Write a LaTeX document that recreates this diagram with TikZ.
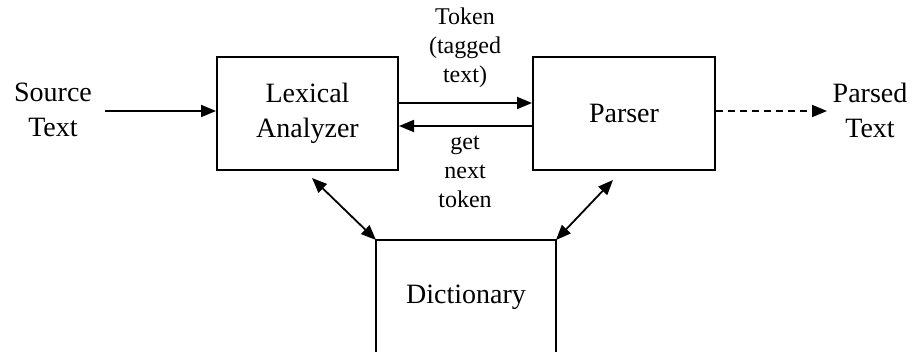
\documentclass[tikz,border=0pt]{standalone}
\usepackage{fontspec}
\setmainfont{Liberation Serif}
\usetikzlibrary{arrows.meta}
\begin{document}
\begin{tikzpicture}[x=1pt,y=-1pt,
  blk/.style={draw,line width=2pt,inner sep=0pt},
  big/.style={font=\fontsize{28}{35}\selectfont,align=center},
  lbl/.style={font=\fontsize{24}{29}\selectfont,align=center},
  tip/.style={Triangle[length=15pt,width=12pt]},
  arr/.style={line width=1.8pt,-{Triangle[length=15pt,width=12pt]}},
  darr/.style={line width=1.8pt,{Triangle[length=15pt,width=12pt]}-{Triangle[length=15pt,width=12pt]}}]
\useasboundingbox (0,0) rectangle (920,351);
% main blocks
\node[blk,minimum width=181pt,minimum height=113pt,big] (lex) at (307.5,113.5) {Lexical\\Analyzer};
\node[blk,minimum width=182pt,minimum height=113pt,big] (par) at (624,113.5) {Parser};
% dictionary: open at the bottom
\coordinate (dtl) at (376,240);
\coordinate (dtr) at (556,240);
\draw[line width=2pt] (376,352) -- (dtl) -- (dtr) -- (556,352);
\node[big] (dic) at (466,297) {Dictionary};
% outer texts
\node[big] (src) at (53,110) {Source\\Text};
\node[big] (out) at (870,110) {Parsed\\Text};
% connectors
\coordinate (s0) at (105,111);
\coordinate (p1) at (827,111);
\draw[arr] (s0) -- (lex.west |- s0);
\draw[arr] (lex.east |- 0,103) coordinate (t0) -- (par.west |- t0);
\draw[arr] (par.west |- 0,126) coordinate (g0) -- (lex.east |- g0);
\draw[arr,dash pattern=on 7pt off 5pt] (par.east |- p1) -- (p1);
\draw[darr] (312,178) coordinate (la) -- (dtl);
\draw[darr] (613,180) coordinate (pa) -- (dtr);
% arrow labels
\node[lbl] (tok) at (465,48) {Token\\(tagged\\text)};
\node[lbl] (gnt) at (465,172) {get\\next\\token};
\end{tikzpicture}
\end{document}
